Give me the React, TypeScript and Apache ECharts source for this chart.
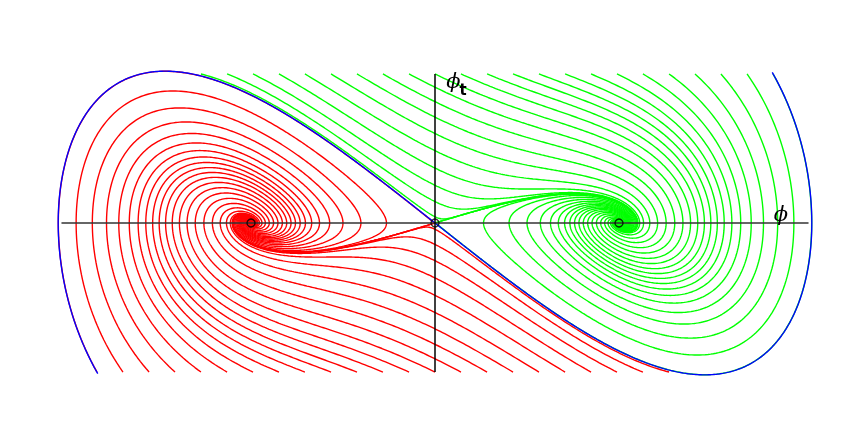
import React, { useEffect, useRef } from "react";
import * as echarts from "echarts";

// Model parameters: phi_tt = -GAMMA*phi_t + phi - phi^3
const GAMMA = 1.0;
const VEL_EDGE = 1.656; // |phi_t| of the seed rows (top / bottom edge)
const PHI_EDGE = 2.03; // half length of the phi axis
const equilibria = [-1, 0, 1];

// Starting phi of trajectories launched from the top edge (phi_t = +VEL_EDGE)
const topSeedPhi = [
  -1.272, -1.13, -0.989, -0.848, -0.707, -0.565, -0.424, -0.283, -0.141, 0,
  0.141, 0.283, 0.424, 0.565, 0.707, 0.848, 0.989, 1.13, 1.272, 1.413, 1.554,
  1.696, 1.837,
];
// Starting phi of trajectories launched from the bottom edge (phi_t = -VEL_EDGE)
const bottomSeedPhi = [
  -1.837, -1.696, -1.554, -1.413, -1.272, -1.13, -0.989, -0.848, -0.707,
  -0.565, -0.424, -0.283, -0.141, 0, 0.141, 0.283, 0.424, 0.565, 0.707, 0.848,
  0.989, 1.13, 1.272,
];

type P = [number, number];

function deriv(s: P): P {
  const [p, v] = s;
  return [v, -GAMMA * v + p - p * p * p];
}

function rk4(s: P, h: number): P {
  const k1 = deriv(s);
  const k2 = deriv([s[0] + (h / 2) * k1[0], s[1] + (h / 2) * k1[1]]);
  const k3 = deriv([s[0] + (h / 2) * k2[0], s[1] + (h / 2) * k2[1]]);
  const k4 = deriv([s[0] + h * k3[0], s[1] + h * k3[1]]);
  return [
    s[0] + (h / 6) * (k1[0] + 2 * k2[0] + 2 * k3[0] + k4[0]),
    s[1] + (h / 6) * (k1[1] + 2 * k2[1] + 2 * k3[1] + k4[1]),
  ];
}

function near(s: P, e: number, tol: number) {
  return Math.hypot(s[0] - e, s[1]) < tol;
}

function forward(start: P): { pts: P[]; well: number } {
  let s: P = start;
  const pts: P[] = [s];
  let last: P = s;
  let well = 0;
  for (let i = 0; i < 12000; i++) {
    s = rk4(s, 0.01);
    if (Math.hypot(s[0] - last[0], s[1] - last[1]) > 0.006) {
      pts.push(s);
      last = s;
    }
    if (near(s, 1, 0.002)) {
      well = 1;
      break;
    }
    if (near(s, -1, 0.002)) {
      well = -1;
      break;
    }
  }
  pts.push(s);
  if (well === 0) well = s[0] >= 0 ? 1 : -1;
  return { pts, well };
}

function stableBranch(sign: number): P[] {
  const ls = (-GAMMA - Math.sqrt(GAMMA * GAMMA + 4)) / 2;
  let s: P = [sign * 1e-6, sign * 1e-6 * ls];
  const pts: P[] = [[0, 0], s];
  let last: P = s;
  for (let i = 0; i < 40000; i++) {
    s = rk4(s, -0.004);
    if (Math.hypot(s[0] - last[0], s[1] - last[1]) > 0.005) {
      pts.push(s);
      last = s;
    }
    if (sign < 0 && s[1] < -VEL_EDGE) break;
    if (sign > 0 && s[1] > VEL_EDGE) break;
    if (Math.abs(s[0]) > 3 || Math.abs(s[1]) > 4) break;
  }
  pts.push(s);
  return pts;
}

function unstableBranch(sign: number): P[] {
  const lu = (-GAMMA + Math.sqrt(GAMMA * GAMMA + 4)) / 2;
  return forward([sign * 1e-6, sign * 1e-6 * lu]).pts;
}

const RED = "#ff0000";
const GREEN = "#00ff00";
const BLUE = "#0000ff";

export default function App() {
  const ref = useRef<HTMLDivElement>(null);
  useEffect(() => {
    if (!ref.current) return;
    const chart = echarts.init(ref.current, undefined, { renderer: "svg" });

    const series: any[] = [];
    const addLine = (pts: P[], color: string, z: number, width = 1.4) => {
      series.push({
        type: "line",
        data: pts,
        showSymbol: false,
        symbol: "none",
        silent: true,
        clip: false,
        z,
        lineStyle: { color, width },
      });
    };

    const trajs: { pts: P[]; well: number }[] = [];
    topSeedPhi.forEach((p) => trajs.push(forward([p, VEL_EDGE])));
    bottomSeedPhi.forEach((p) => trajs.push(forward([p, -VEL_EDGE])));
    trajs
      .filter((t) => t.well < 0)
      .forEach((t) => addLine(t.pts, RED, 2));
    addLine(unstableBranch(-1), RED, 2);
    trajs
      .filter((t) => t.well > 0)
      .forEach((t) => addLine(t.pts, GREEN, 3));
    addLine(unstableBranch(1), GREEN, 3);
    addLine(stableBranch(-1), BLUE, 4);
    addLine(stableBranch(1), BLUE, 4);

    // axes
    addLine(
      [
        [-PHI_EDGE, 0],
        [PHI_EDGE, 0],
      ],
      "#333333",
      5,
      1.5
    );
    addLine(
      [
        [0, -VEL_EDGE],
        [0, VEL_EDGE],
      ],
      "#000000",
      5,
      1.5
    );

    series.push({
      type: "scatter",
      data: equilibria.map((e) => [e, 0]),
      symbol: "circle",
      symbolSize: 8,
      silent: true,
      z: 6,
      itemStyle: { color: "rgba(0,0,0,0)", borderColor: "#000", borderWidth: 1.4 },
    });

    chart.setOption({
      animation: false,
      grid: { left: 30.2, top: 16, width: 809.6, height: 414 },
      xAxis: { type: "value", min: -2.2, max: 2.2, show: false },
      yAxis: { type: "value", min: -2.3, max: 2.3, show: false },
      series,
      graphic: [
        {
          type: "text",
          x: 781,
          y: 214,
          z: 10,
          style: {
            text: "\u03D5",
            font: 'italic 21px "DejaVu Serif"',
            fill: "#000",
            align: "center",
            verticalAlign: "middle",
          },
        },
        {
          type: "text",
          x: 453.5,
          y: 81,
          z: 10,
          style: {
            text: "\u03D5",
            font: 'italic 21px "DejaVu Serif"',
            fill: "#000",
            align: "center",
            verticalAlign: "middle",
          },
        },
        {
          type: "text",
          x: 463,
          y: 90,
          z: 10,
          style: {
            text: "t",
            font: 'bold 15px "DejaVu Sans"',
            fill: "#000",
            align: "center",
            verticalAlign: "middle",
          },
        },
      ],
    });
    return () => chart.dispose();
  }, []);
  return (
    <div
      ref={ref}
      style={{ position: "fixed", left: 0, top: 0, width: 844, height: 436 }}
    />
  );
}
